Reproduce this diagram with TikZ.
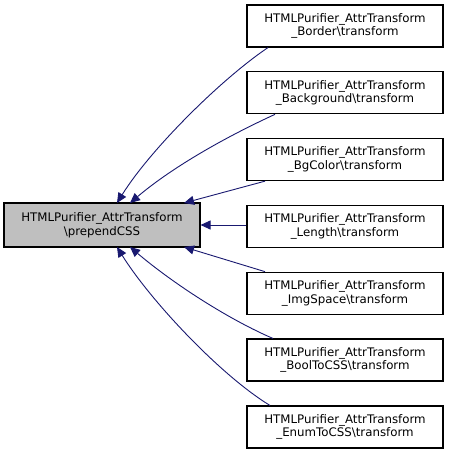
\documentclass[tikz,border=0pt]{standalone}
\usepackage{fontspec}
\setmainfont{DejaVu Sans}
\usetikzlibrary{arrows.meta}
\definecolor{edgeblue}{HTML}{191970}
\definecolor{mainfill}{HTML}{BFBFBF}
\tikzset{
  box/.style={draw=black, line width=1.1pt, minimum width=196pt, minimum height=43pt, inner sep=0pt, align=center, font=\fontsize{11.8}{13.5}\selectfont},
  mainbox/.style={box, fill=mainfill, minimum height=44pt},
  rbox/.style={box, fill=white, minimum height=42pt},
  edge/.style={draw=edgeblue, line width=0.9pt, -{Triangle[length=10pt,width=9pt]}}
}
\begin{document}
\begin{tikzpicture}[x=1pt,y=-1pt]
\useasboundingbox (0,0) rectangle (448,453);
\node[mainbox] (main) at (102,225) {HTMLPurifier\_AttrTransform\\\textbackslash prependCSS};
\node[rbox] (n1) at (345,26) {HTMLPurifier\_AttrTransform\\\_Border\textbackslash transform};
\node[rbox] (n2) at (345,92.8) {HTMLPurifier\_AttrTransform\\\_Background\textbackslash transform};
\node[rbox] (n3) at (345,159.6) {HTMLPurifier\_AttrTransform\\\_BgColor\textbackslash transform};
\node[rbox] (n4) at (345,226.4) {HTMLPurifier\_AttrTransform\\\_Length\textbackslash transform};
\node[rbox] (n5) at (345,293.2) {HTMLPurifier\_AttrTransform\\\_ImgSpace\textbackslash transform};
\node[rbox] (n6) at (345,360) {HTMLPurifier\_AttrTransform\\\_BoolToCSS\textbackslash transform};
\node[rbox] (n7) at (345,427) {HTMLPurifier\_AttrTransform\\\_EnumToCSS\textbackslash transform};
\coordinate (m1) at (117,203);
\coordinate (m2) at (130,203);
\coordinate (m3) at (184,203);
\coordinate (m5) at (184,247);
\coordinate (m6) at (130,247);
\coordinate (m7) at (117,247);
\draw[edge] ([xshift=-77pt]n1.south) .. controls (220,80) and (150,150) .. (m1);
\draw[edge] ([xshift=-70pt]n2.south) .. controls (230,135) and (175,165) .. (m2);
\draw[edge] ([xshift=-80pt]n3.south) -- (m3);
\draw[edge] (n4.west |- main.east) -- (main.east);
\draw[edge] ([xshift=-80pt]n5.north) -- (m5);
\draw[edge] ([xshift=-72pt]n6.north) .. controls (230,320) and (175,285) .. (m6);
\draw[edge] ([xshift=-75pt]n7.north) .. controls (220,375) and (150,300) .. (m7);
\end{tikzpicture}
\end{document}
